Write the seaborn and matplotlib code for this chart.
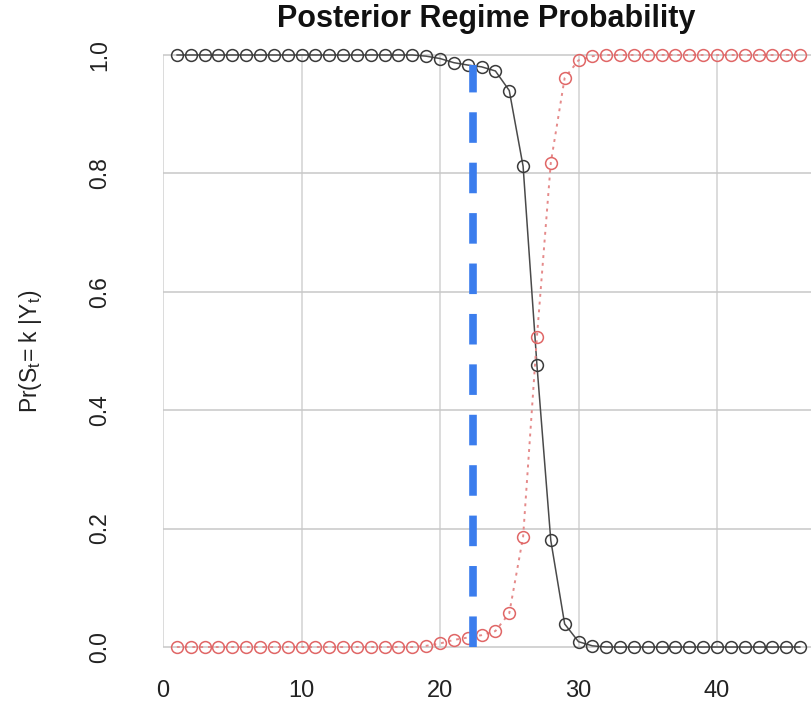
import matplotlib

matplotlib.use("Agg")
import matplotlib.pyplot as plt
import seaborn as sns

# time index and posterior probabilities
time_index = list(range(1, 47))
regime_one = [1.0] * 18 + [0.998, 0.994, 0.987, 0.983, 0.980, 0.973, 0.940, 0.812,
                           0.476, 0.180, 0.039, 0.009, 0.002] + [0.0] * 15
regime_two = [0.0] * 18 + [0.002, 0.006, 0.012, 0.016, 0.020, 0.027, 0.057, 0.186,
                           0.524, 0.818, 0.961, 0.991, 0.998] + [1.0] * 15
change_point = 22.35
change_top = 0.983

x_ticks = [0, 10, 20, 30, 40]
y_ticks = [0.0, 0.2, 0.4, 0.6, 0.8, 1.0]
y_tick_labels = ["0.0", "0.2", "0.4", "0.6", "0.8", "1.0"]


def main():
    sns.set_theme(style="white")
    plt.rcParams["font.family"] = ["Liberation Sans", "DejaVu Sans"]

    figure = plt.figure(figsize=(8.11, 7.27), dpi=100)
    axis = figure.add_axes([163 / 811, 1 - 670.7 / 727, 1 - 163 / 811, 639.4 / 727])
    x_right = (811 - 163) / 13.85
    axis.set_xlim(0, x_right)
    axis.set_ylim(-0.04, 1.04)

    # bounded grid like R's grid()
    axis.vlines(x_ticks, 0, 1, color="#d2d2d2", linewidth=1.1, zorder=1)
    axis.hlines(y_ticks, 0, x_right, color="#c8c8c8", linewidth=1.1, zorder=1)

    sns.lineplot(x=time_index, y=regime_one, ax=axis, color="#4a4a4a", linewidth=1.1,
                 marker="o", markersize=8.5, markerfacecolor="none",
                 markeredgecolor="#3a3a3a", markeredgewidth=1.1, clip_on=False, zorder=3)
    sns.lineplot(x=time_index, y=regime_two, ax=axis, color="#e58a8a", linewidth=1.4,
                 linestyle=(0, (1.5, 2.5)), marker="o", markersize=8.5,
                 markerfacecolor="none", markeredgecolor="#e06666",
                 markeredgewidth=1.1, clip_on=False, zorder=3)
    axis.vlines(change_point, 0, change_top, color="#3b7ded", linewidth=5.5,
                linestyles=[(0, (4.0, 2.6))], zorder=4)

    for spine in axis.spines.values():
        spine.set_visible(False)
    axis.set_xticks(x_ticks)
    axis.set_xticklabels([str(t) for t in x_ticks])
    axis.set_yticks(y_ticks)
    axis.set_yticklabels(y_tick_labels, rotation=90, va="center")
    axis.tick_params(axis="x", length=0, pad=7, labelsize=17, labelcolor="#222222")
    axis.tick_params(axis="y", length=0, pad=37, labelsize=16.5, labelcolor="#222222")
    axis.grid(False)

    figure.text(486 / 811, 1 - 19 / 727, "Posterior Regime Probability",
                ha="center", va="center", fontsize=22, fontweight="bold", color="#111111")
    figure.text(31 / 811, 1 - 351 / 727,
                r"Pr(S$_\mathregular{t}$= k |Y$_\mathregular{t}$)",
                rotation=90, ha="center", va="center", fontsize=16.5, color="#222222")

    figure.savefig("out.png", dpi=100)
    plt.close(figure)


if __name__ == "__main__":
    main()
